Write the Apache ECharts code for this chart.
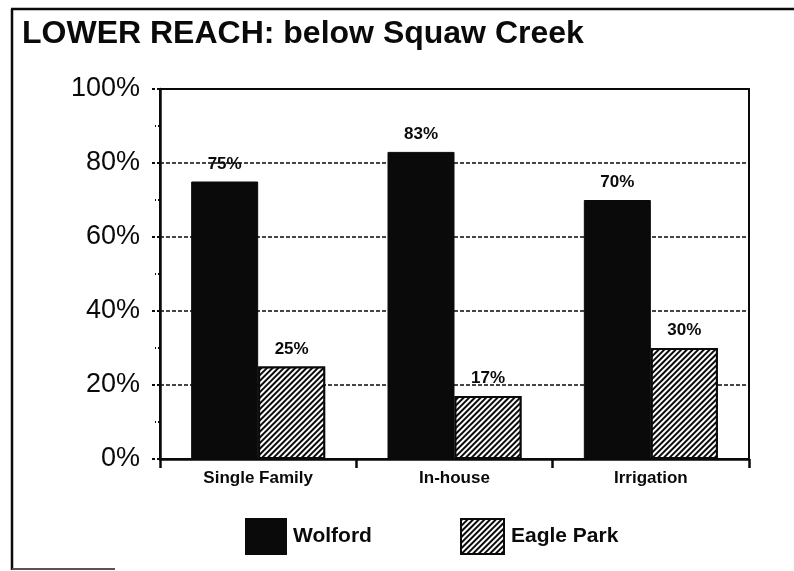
<!DOCTYPE html>
<html>
<head>
<meta charset="utf-8">
<script src="https://cdn.jsdelivr.net/npm/echarts@6/dist/echarts.min.js"></script>
<style>
  html, body { margin: 0; padding: 0; background: #fff; }
  #chart { width: 794px; height: 571px; }
</style>
</head>
<body>
<div id="chart"></div>
<script>
// values
const categories = ['Single Family', 'In-house', 'Irrigation']
const wolford = [75, 83, 70]
const eaglePark = [25, 17, 30]
const yTicks = [0, 20, 40, 60, 80, 100]

const font = 'Arial, "Liberation Sans", Helvetica, sans-serif'
const ink = '#0a0a0a'

const hatch = {
  symbol: 'rect',
  color: ink,
  backgroundColor: '#fff',
  dashArrayX: [1, 0],
  dashArrayY: [1.2, 2],
  rotation: -Math.PI / 4,
}

const labelStyle = {
  show: true,
  position: 'top',
  distance: 9,
  formatter: '{c}%',
  fontFamily: font,
  fontSize: 17,
  fontWeight: 'bold',
  color: ink,
}

const chart = echarts.init(document.getElementById('chart'), null, { renderer: 'canvas' })

chart.setOption({
  backgroundColor: '#fff',
  animation: false,
  title: {
    text: 'LOWER REACH: below Squaw Creek',
    left: 17,
    top: 13,
    textStyle: { fontFamily: font, fontSize: 32, fontWeight: 'bold', color: ink },
  },
  legend: [
    {
      data: [{ name: 'Wolford', icon: 'rect' }],
      left: 245,
      top: 518,
      padding: 0,
      itemWidth: 40,
      itemHeight: 35,
      textStyle: { fontFamily: font, fontSize: 21, fontWeight: 'bold', color: ink, padding: [0, 0, 0, 2] },
    },
    {
      data: [{ name: 'Eagle Park', icon: 'rect' }],
      left: 460,
      top: 518,
      padding: 0,
      itemWidth: 43,
      itemHeight: 35,
      textStyle: { fontFamily: font, fontSize: 21, fontWeight: 'bold', color: ink, padding: [0, 0, 0, 2] },
    },
  ],
  grid: {
    left: 160,
    right: 45,
    top: 89,
    bottom: 112,
    show: true,
    borderColor: ink,
    borderWidth: 2,
    backgroundColor: 'transparent',
  },
  xAxis: {
    type: 'category',
    data: categories,
    axisLine: { lineStyle: { color: ink, width: 2.5 } },
    axisTick: { show: true, length: 9, lineStyle: { color: ink, width: 2.5 } },
    axisLabel: {
      margin: 11,
      fontFamily: font,
      fontSize: 17,
      fontWeight: 'bold',
      color: ink,
    },
  },
  yAxis: {
    type: 'value',
    min: yTicks[0],
    max: yTicks[yTicks.length - 1],
    interval: 20,
    axisLine: { show: true, lineStyle: { color: ink, width: 2.5 } },
    axisTick: { show: true, length: 8, lineStyle: { color: ink, width: 2, type: [3, 2] } },
    minorTick: { show: true, splitNumber: 2, length: 5, lineStyle: { color: ink, width: 2, type: [2, 2] } },
    axisLabel: {
      margin: 20,
      formatter: '{value}%',
      fontFamily: font,
      fontSize: 27,
      color: ink,
    },
    splitLine: { show: true, lineStyle: { color: ink, width: 1.5, type: [4, 2] } },
  },
  series: [
    {
      name: 'Wolford',
      type: 'bar',
      data: wolford,
      barWidth: 67,
      barGap: '0%',
      itemStyle: { color: ink, borderColor: ink, borderWidth: 1 },
      label: labelStyle,
    },
    {
      name: 'Eagle Park',
      type: 'bar',
      data: eaglePark,
      barWidth: 67,
      itemStyle: { color: '#fff', borderColor: ink, borderWidth: 2, decal: hatch },
      label: labelStyle,
    },
  ],
  graphic: [
    // frame of the scanned page: top and left edges, faint stub at the bottom
    { type: 'line', shape: { x1: 11, y1: 9, x2: 794, y2: 9 }, style: { stroke: ink, lineWidth: 2.5 } },
    { type: 'line', shape: { x1: 12, y1: 9, x2: 12, y2: 570 }, style: { stroke: ink, lineWidth: 2.5 } },
    { type: 'line', shape: { x1: 12, y1: 569, x2: 115, y2: 569 }, style: { stroke: '#555', lineWidth: 2 } },
  ],
})
</script>
</body>
</html>
